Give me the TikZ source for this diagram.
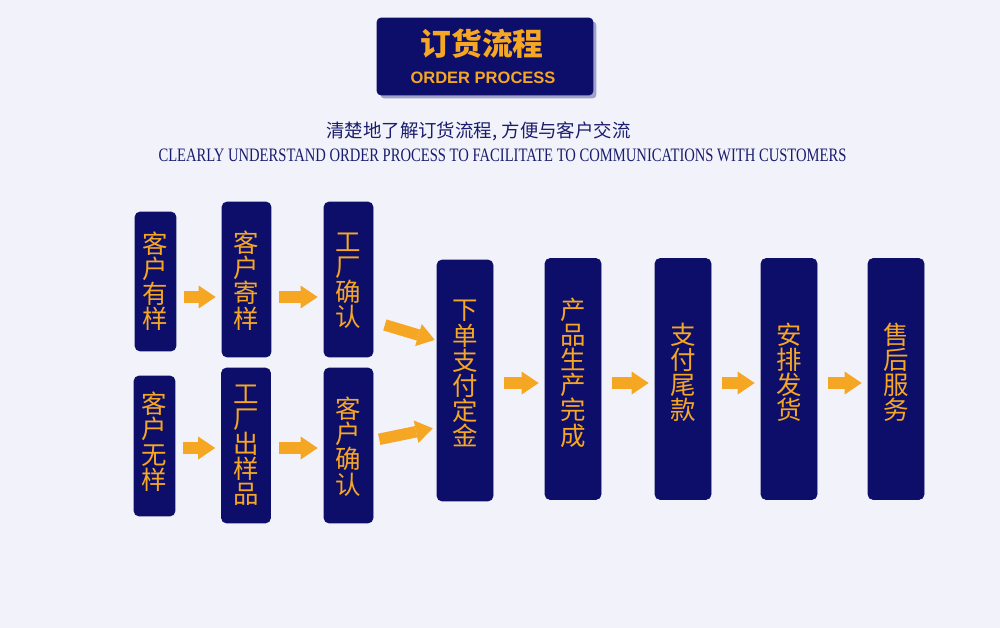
\documentclass[tikz,border=0pt]{standalone}
\usepackage{fontspec}
\usepackage{tikz}
\usetikzlibrary{shadows, arrows.meta, calc}

\newfontfamily\cjk{Noto Sans CJK SC}
\newfontfamily\titlesans{Liberation Sans}
\newfontfamily\subserif[FakeStretch=0.77]{Liberation Serif}

\definecolor{bgpale}{RGB}{242,243,250}
\definecolor{navy}{RGB}{12,14,105}
\definecolor{gold}{RGB}{245,166,35}
\definecolor{inktext}{RGB}{26,28,110}
\definecolor{shadowlav}{RGB}{160,162,206}

\begin{document}
\begin{tikzpicture}[x=0.02cm, y=-0.02cm,
	box/.style={draw=navy, fill=navy, rounded corners=0.1cm, inner sep=0pt, align=center, text=gold, font=\cjk\fontsize{14.5}{14.3}\selectfont},
	smallbox/.style={box, minimum width=0.82cm, minimum height=2.78cm},
	midbox/.style={box, minimum width=0.98cm, minimum height=3.1cm},
	bigbox/.style={box, minimum width=1.12cm, minimum height=4.82cm, text depth=8.5pt},
	flow/.style={draw=gold, line width=0.23cm, -{Triangle[width=0.46cm, length=0.34cm, line width=0pt]}, shorten <=0.16cm, shorten >=0.12cm}]
	
	% 背景
	\fill[bgpale] (0,0) rectangle (1000,628);
	
	% 标题
	\node[draw=navy, fill=navy, rounded corners=0.08cm, minimum width=4.32cm, minimum height=1.54cm,
		drop shadow={shadow xshift=0.07cm, shadow yshift=-0.07cm, fill=shadowlav, opacity=1}] (title) at (485,56.5) {};
	\node[text=gold, font=\cjk\bfseries\fontsize{17.5}{18}\selectfont] (titlecn) at (482,44) {订货流程};
	\node[text=gold, font=\titlesans\bfseries\fontsize{9.4}{10}\selectfont] (titleen) at (483,78) {ORDER PROCESS};
	
	% 副标题
	\node[text=inktext, font=\cjk\fontsize{10.5}{12}\selectfont] (subcn) at (478.5,131) {清楚地了解订货流程, 方便与客户交流};
	\node[text=inktext, font=\subserif\fontsize{10.8}{12}\selectfont] (suben) at (502.5,155) {CLEARLY UNDERSTAND ORDER PROCESS TO FACILITATE TO COMMUNICATIONS WITH CUSTOMERS};
	
	% 客户有样
	\node[smallbox] (has1) at (155.5,281.5) {客\\户\\有\\样};
	\node[midbox, text depth=-2pt] (has2) at (246.5,279.5) {客\\户\\寄\\样};
	\node[midbox, text depth=-5pt] (has3) at (348.5,279.5) {工\\厂\\确\\认};
	
	% 客户无样
	\node[smallbox, minimum height=2.8cm, text depth=6pt] (none1) at (154.5,446) {客\\户\\无\\样};
	\node[midbox] (none2) at (246,445.5) {工\\厂\\出\\样\\品};
	\node[midbox, text depth=-5pt] (none3) at (348.5,445.5) {客\\户\\确\\认};
	
	% 主流程
	\node[bigbox] (deposit) at (465,380.5) {下\\单\\支\\付\\定\\金};
	\node[bigbox] (produce) at (573,379) {产\\品\\生\\产\\完\\成};
	\node[bigbox] (balance) at (683,379) {支\\付\\尾\\款};
	\node[bigbox] (ship) at (789,379) {安\\排\\发\\货};
	\node[bigbox] (service) at (896,379) {售\\后\\服\\务};
	
	% 箭头
	\draw[flow] (has1.east |- 0,297) -- (has2.west |- 0,297);
	\draw[flow] (has2.east |- 0,297) -- (has3.west |- 0,297);
	\draw[flow] (none1.east |- 0,448) -- (none2.west |- 0,448);
	\draw[flow] (none2.east |- 0,448) -- (none3.west |- 0,448);
	\draw[flow, shorten <=0.24cm, shorten >=0.04cm] ($(has3.east)+(0,42)$) -- ($(deposit.west)+(0,-40)$);
	\draw[flow, shorten <=0.12cm, shorten >=0.08cm] ($(none3.east)+(0,-5)$) -- ($(deposit.west)+(0,47)$);
	\draw[flow, shorten <=0.22cm] (deposit.east |- 0,383) -- (produce.west |- 0,383);
	\draw[flow, shorten <=0.22cm] (produce.east |- 0,383) -- (balance.west |- 0,383);
	\draw[flow, shorten <=0.22cm] (balance.east |- 0,383) -- (ship.west |- 0,383);
	\draw[flow, shorten <=0.22cm] (ship.east |- 0,383) -- (service.west |- 0,383);
\end{tikzpicture}
\end{document}
